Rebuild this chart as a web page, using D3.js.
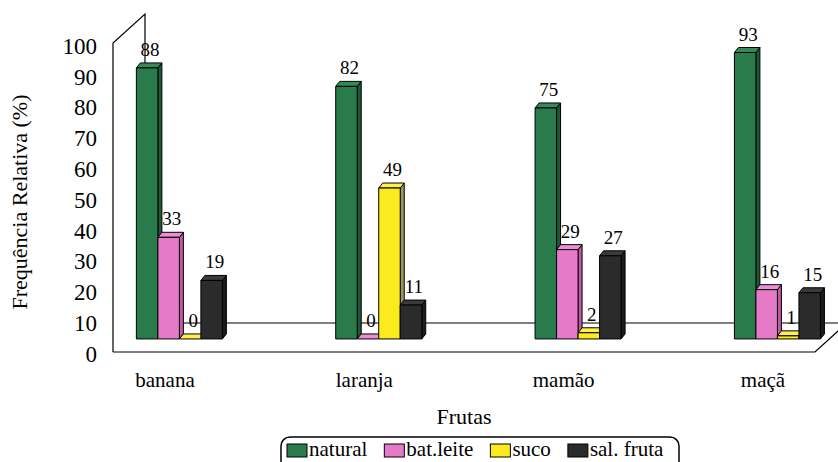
<!DOCTYPE html>
<html>
<head>
<meta charset="utf-8">
<script src="https://cdn.jsdelivr.net/npm/d3@7/dist/d3.min.js"></script>
<style>
  html, body { margin: 0; padding: 0; background: #fff; }
  svg, svg text { font-family: "Liberation Serif", "Times New Roman", serif; }
</style>
</head>
<body>
<svg id="chart" width="838" height="462"></svg>
<script>
// Fruit consumption forms — relative frequency (%)
const categories = ["banana", "laranja", "mamão", "maçã"];
const seriesNames = ["natural", "bat.leite", "suco", "sal. fruta"];
const natural  = [88, 82, 75, 93];
const batLeite = [33, 0, 29, 16];
const suco     = [0, 49, 2, 1];
const salFruta = [19, 11, 27, 15];
const yTicks   = [0, 10, 20, 30, 40, 50, 60, 70, 80, 90, 100];

const seriesValues = [natural, batLeite, suco, salFruta];
const palette = [
  { front: "#2a7b4c", side: "#1c5a37", top: "#33895a" },
  { front: "#e47ac8", side: "#c058a6", top: "#ec8ed4" },
  { front: "#fbea1e", side: "#9c9858", top: "#fff050" },
  { front: "#2b2b2b", side: "#1b1b1b", top: "#3a3a3a" }
];
const SERIF = "Liberation Serif";

const svg = d3.select("#chart").attr("font-family", SERIF);

// Front plane of the 3-D box and the depth vector toward the back wall
const front = { left: 113, right: 815, bottom: 352, top: 44 };
const depth = { dx: 32, dy: -29 };
const barPlane = 0.45;                 // bars stand at this fraction of the floor depth
const bOff = { dx: depth.dx * barPlane, dy: depth.dy * barPlane };
const bar3d = { dx: 4, dy: -5 };       // thickness of each column

const y = d3.scaleLinear().domain([0, 100]).range([front.bottom, front.top]);
const x0 = d3.scaleBand().domain(categories)
  .range([front.left, front.right]).paddingInner(0.5685).paddingOuter(0.045);
const x1 = d3.scaleBand().domain(seriesNames).range([0, x0.bandwidth()]);

const line = (pts) => "M" + pts.map(p => p.join(",")).join("L");
const frame = svg.append("g").attr("fill", "none").attr("stroke", "#000").attr("stroke-width", 1.2);

// Side wall (left) and floor outline
const fl = [front.left, front.bottom], fr = [front.right, front.bottom];
const bl = [front.left + depth.dx, front.bottom + depth.dy];
const br = [front.right + depth.dx, front.bottom + depth.dy];
const tl = [front.left, y(100) - 1], tb = [front.left + depth.dx, y(100) - 1 + depth.dy];
frame.append("path").attr("d", line([fl, tl, tb, bl]));
frame.append("path").attr("d", line([fl, fr, br]));
frame.append("path").attr("d", line([bl, br]));

// Columns
const groups = svg.append("g").selectAll("g").data(categories).join("g");
groups.each(function (cat, ci) {
  const g = d3.select(this);
  seriesNames.forEach((s, si) => {
    const v = seriesValues[si][ci];
    const c = palette[si];
    const bx = x0(cat) + x1(s) + bOff.dx;
    const w = x1.bandwidth();
    const yb = y(0) + bOff.dy;
    const yt = y(v) + bOff.dy;
    const d = bar3d;
    const gb = g.append("g").attr("stroke", "#000").attr("stroke-width", 1).attr("stroke-linejoin", "round");
    gb.append("path").attr("fill", c.side)
      .attr("d", line([[bx + w, yt], [bx + w + d.dx, yt + d.dy], [bx + w + d.dx, yb + d.dy], [bx + w, yb]]) + "Z");
    gb.append("path").attr("fill", c.top)
      .attr("d", line([[bx, yt], [bx + d.dx, yt + d.dy], [bx + w + d.dx, yt + d.dy], [bx + w, yt]]) + "Z");
    if (v > 0) {
      gb.append("rect").attr("x", bx).attr("y", yt).attr("width", w).attr("height", yb - yt).attr("fill", c.front);
    }
  });
});

// Value labels
const labels = svg.append("g").attr("font-size", 19).attr("font-family", SERIF)
  .attr("text-anchor", "middle").attr("fill", "#000");
categories.forEach((cat, ci) => {
  seriesNames.forEach((s, si) => {
    const v = seriesValues[si][ci];
    const cx = x0(cat) + x1(s) + x1.bandwidth() / 2 + bOff.dx + 3;
    labels.append("text").attr("x", cx).attr("y", y(v) + bOff.dy - 12).text(v);
  });
});

// Value axis on the front plane
const yAxis = svg.append("g").attr("transform", "translate(97,2)")
  .call(d3.axisLeft(y).tickValues(yTicks).tickSize(0).tickPadding(0));
yAxis.attr("font-family", SERIF).attr("font-size", 23);
yAxis.select(".domain").remove();
yAxis.selectAll("text").attr("fill", "#000");

// Category labels
svg.append("g").attr("font-size", 21).attr("font-family", SERIF).attr("text-anchor", "middle")
  .selectAll("text").data(categories).join("text")
  .attr("x", d => x0(d) + x0.bandwidth() / 2)
  .attr("y", 387).text(d => d);

// Axis titles
svg.append("text").attr("x", 464).attr("y", 424).attr("font-size", 22).attr("font-family", SERIF)
  .attr("text-anchor", "middle").text("Frutas");
svg.append("text").attr("transform", "translate(27,202) rotate(-90)")
  .attr("font-size", 22).attr("font-family", SERIF).attr("text-anchor", "middle").text("Frequência Relativa (%)");

// Legend
const legend = svg.append("g").attr("font-family", SERIF);
legend.append("rect").attr("x", 281).attr("y", 437).attr("width", 398).attr("height", 40)
  .attr("rx", 9).attr("fill", "#fff").attr("stroke", "#000").attr("stroke-width", 1.5);
let lx = 287;
seriesNames.forEach((s, si) => {
  legend.append("rect").attr("x", lx).attr("y", 444).attr("width", 20).attr("height", 13)
    .attr("fill", palette[si].front).attr("stroke", "#000").attr("stroke-width", 1);
  const t = legend.append("text").attr("x", lx + 22).attr("y", 456).attr("font-size", 21).text(s);
  lx += 22 + t.node().getComputedTextLength() + 17;
});
</script>
</body>
</html>
